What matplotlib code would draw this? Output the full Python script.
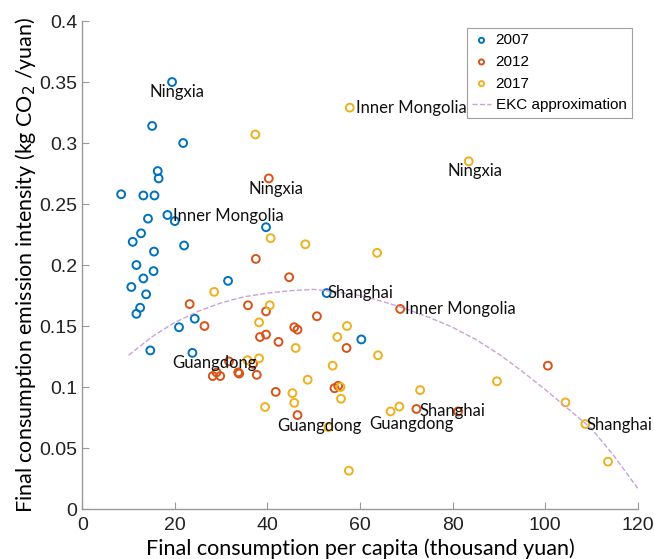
import matplotlib.pyplot as plt

# Final consumption per capita (thousand yuan) and emission intensity, per year
x_2007 = [19.4, 15.1, 21.8, 16.3, 16.5, 8.4, 13.2, 15.6, 18.4, 20.0,
          14.2, 12.7, 10.9, 22.0, 15.5, 39.7, 11.7, 15.4, 13.2, 31.5,
          10.6, 13.8, 12.5, 11.7, 20.9, 24.3, 14.7, 23.8, 52.8, 60.3]
y_2007 = [0.350, 0.314, 0.300, 0.277, 0.271, 0.258, 0.257, 0.257, 0.241, 0.236,
          0.238, 0.226, 0.219, 0.216, 0.211, 0.231, 0.200, 0.195, 0.189, 0.187,
          0.182, 0.176, 0.165, 0.160, 0.149, 0.156, 0.130, 0.128, 0.177, 0.139]

x_2012 = [40.3, 37.5, 44.7, 23.2, 35.8, 26.4, 39.7, 38.4, 39.7, 42.4,
          45.8, 46.5, 50.7, 57.1, 28.2, 29.8, 29.0, 31.7, 33.7, 33.9,
          36.9, 37.7, 41.8, 46.5, 54.5, 55.3, 68.7, 100.6, 72.2, 81.2]
y_2012 = [0.271, 0.205, 0.190, 0.168, 0.167, 0.150, 0.162, 0.141, 0.143, 0.137,
          0.149, 0.147, 0.158, 0.132, 0.109, 0.109, 0.112, 0.121, 0.112, 0.111,
          0.119, 0.110, 0.096, 0.077, 0.099, 0.101, 0.164, 0.1175, 0.082, 0.080]

x_2017 = [57.8, 37.4, 40.7, 48.2, 83.5, 63.7, 28.5, 40.5, 38.2, 55.1,
          57.2, 46.1, 35.7, 38.2, 48.7, 54.1, 55.8, 55.9, 45.4, 45.8,
          39.5, 57.6, 53.2, 63.9, 89.6, 73.0, 66.6, 68.5, 104.4, 108.7, 113.6]
y_2017 = [0.329, 0.307, 0.222, 0.217, 0.285, 0.210, 0.178, 0.167, 0.153, 0.141,
          0.150, 0.132, 0.122, 0.1235, 0.106, 0.1175, 0.100, 0.0904, 0.095, 0.087,
          0.0836, 0.0314, 0.067, 0.126, 0.1047, 0.0975, 0.080, 0.084, 0.0874, 0.0697, 0.0388]

# EKC approximation curve
ekc_x = [10, 15, 20, 25, 30, 35, 40, 45, 50, 55, 60, 65,
         70, 75, 80, 85, 90, 95, 100, 105, 110, 115, 120]
ekc_y = [0.126, 0.141, 0.153, 0.162, 0.169, 0.174, 0.177, 0.179, 0.180, 0.178, 0.175, 0.170,
         0.164, 0.157, 0.149, 0.139, 0.127, 0.113, 0.098, 0.082, 0.066, 0.043, 0.017]

# province labels (text, x, y)
labels = [
    ("Ningxia", 14.6, 0.342), ("Inner Mongolia", 19.5, 0.240),
    ("Ningxia", 35.9, 0.2625), ("Inner Mongolia", 59.1, 0.329),
    ("Ningxia", 78.9, 0.277), ("Shanghai", 53.0, 0.177),
    ("Inner Mongolia", 69.7, 0.164), ("Guangdong", 19.4, 0.1194),
    ("Guangdong", 42.1, 0.068), ("Guangdong", 62.0, 0.070),
    ("Shanghai", 72.9, 0.080), ("Shanghai", 108.9, 0.0686),
]

c07, c12, c17 = '#0072BD', '#D95319', '#EDB120'

fig = plt.figure(figsize=(6.54, 5.59), dpi=100)
ax = fig.add_axes([0.1258, 0.0894, 0.8492, 0.873])

mk = dict(s=32, facecolors='none', linewidths=1.4)
ax.scatter(x_2007, y_2007, edgecolors=c07, label='2007', **mk)
ax.scatter(x_2012, y_2012, edgecolors=c12, label='2012', **mk)
ax.scatter(x_2017, y_2017, edgecolors=c17, label='2017', **mk)
ax.plot(ekc_x, ekc_y, '--', color='#c9a2da', lw=1.0, label='EKC approximation')

for txt, tx, ty in labels:
    ax.text(tx, ty, txt, fontsize=12, family='Lato', va='center', ha='left', color='#111111')

ax.set_xlim(0, 120)
ax.set_ylim(0, 0.4)
ax.set_xticks([0, 20, 40, 60, 80, 100, 120])
ax.set_yticks([0, 0.05, 0.1, 0.15, 0.2, 0.25, 0.3, 0.35, 0.4])
ax.set_yticklabels(['0', '0.05', '0.1', '0.15', '0.2', '0.25', '0.3', '0.35', '0.4'])

for s in ['top', 'right']:
    ax.spines[s].set_visible(False)
for s in ['left', 'bottom']:
    ax.spines[s].set_color('#999999')
    ax.spines[s].set_linewidth(1.0)
ax.tick_params(direction='in', length=5, color='#999999', labelsize=14, labelcolor='#222222')
ax.tick_params(axis='x', pad=6)
for lab in ax.get_xticklabels() + ax.get_yticklabels():
    lab.set_family(['Liberation Sans Narrow', 'Liberation Sans'])

ax.set_xlabel('Final consumption per capita (thousand yuan)', family='Lato', fontsize=15.5, labelpad=3)
ax.set_ylabel('Final consumption emission intensity (kg CO$_2$ /yuan)', family='Lato', fontsize=15.5, labelpad=1)

leg = ax.legend(loc='upper right', bbox_to_anchor=(0.9897, 0.9857),
                prop={'family': 'Liberation Sans', 'size': 11},
                fancybox=False, edgecolor='#888888', handlelength=1.2, handletextpad=0.33,
                borderpad=0.35, borderaxespad=0.0, labelspacing=0.5, markerscale=0.65)
leg.get_frame().set_linewidth(0.8)

fig.savefig('out.png', dpi=100)
